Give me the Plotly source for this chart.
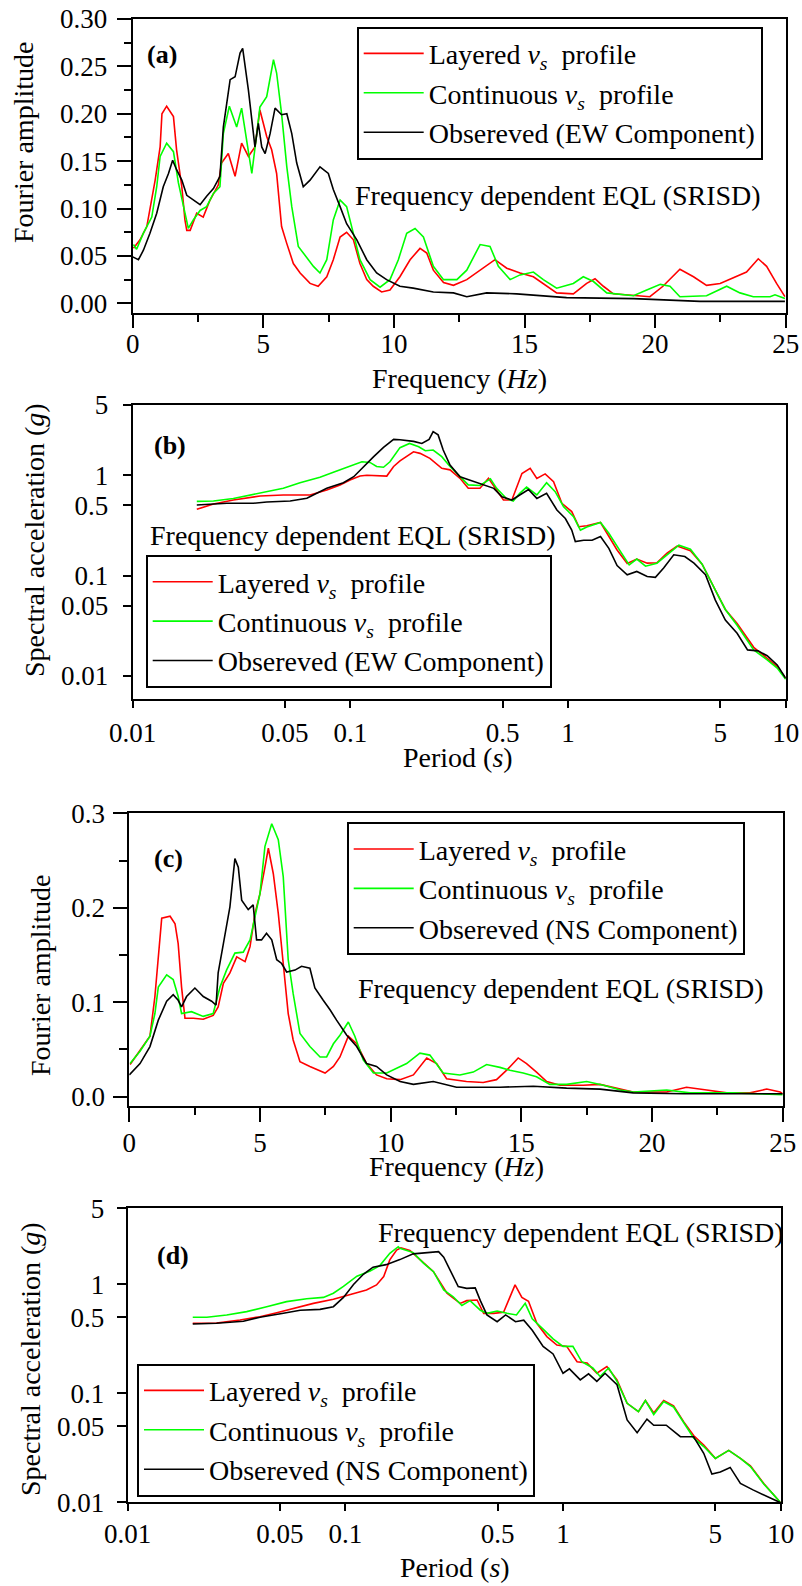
import plotly.graph_objects as go

FONT = "Liberation Serif"

# ---------------- (a) Fourier amplitude, EW component ----------------
a_layered_f = [0.03, 0.28, 0.54, 0.86, 1.05, 1.12, 1.30, 1.56, 1.68, 1.88, 2.0, 2.07, 2.2, 2.45, 2.7, 2.96,
               3.28, 3.4, 3.66, 3.92, 4.17, 4.43, 4.68, 4.87, 5.13, 5.32, 5.51, 5.7, 5.9, 6.15, 6.41, 6.79,
               7.1, 7.43, 7.68, 7.94, 8.19, 8.45, 8.7, 8.96, 9.21, 9.53, 9.85, 10.23, 10.62, 11.0, 11.26,
               11.51, 11.9, 12.28, 12.79, 13.3, 13.87, 14.32, 14.83, 15.34, 15.72, 16.23, 16.87, 17.38,
               17.7, 18.02, 18.4, 19.17, 19.8, 20.3, 20.95, 21.47, 21.97, 22.49, 22.99, 23.5, 23.95,
               24.27, 24.65, 24.97]
a_layered_amp = [0.058, 0.067, 0.081, 0.13, 0.165, 0.20, 0.208, 0.197, 0.162, 0.123, 0.088, 0.077, 0.077,
                 0.095, 0.091, 0.109, 0.125, 0.148, 0.158, 0.134, 0.169, 0.155, 0.165, 0.204, 0.176, 0.162,
                 0.137, 0.081, 0.063, 0.042, 0.032, 0.021, 0.018, 0.028, 0.046, 0.070, 0.075, 0.067, 0.042,
                 0.025, 0.018, 0.012, 0.014, 0.028, 0.046, 0.058, 0.053, 0.035, 0.022, 0.019, 0.025, 0.035,
                 0.046, 0.037, 0.032, 0.028, 0.021, 0.011, 0.010, 0.021, 0.026, 0.018, 0.010, 0.008, 0.007,
                 0.018, 0.036, 0.028, 0.019, 0.021, 0.027, 0.033, 0.047, 0.039, 0.021, 0.007]

a_contin_f = [0.03, 0.15, 0.41, 0.73, 0.92, 1.05, 1.30, 1.56, 1.75, 1.94, 2.13, 2.32, 2.58, 2.83, 3.09, 3.34,
              3.47, 3.70, 3.98, 4.17, 4.36, 4.56, 4.75, 4.87, 5.13, 5.39, 5.51, 5.70, 5.90, 6.09, 6.34,
              6.66, 6.92, 7.17, 7.43, 7.68, 7.94, 8.19, 8.45, 8.70, 9.09, 9.47, 9.85, 10.17, 10.49, 10.81,
              11.13, 11.51, 11.90, 12.41, 12.79, 13.30, 13.68, 14.00, 14.45, 14.83, 15.34, 15.72, 16.23,
              16.87, 17.25, 17.64, 18.15, 19.17, 19.68, 20.20, 20.57, 20.95, 21.97, 22.74, 23.25, 23.76,
              24.40, 24.59, 24.97]
a_contin_amp = [0.062, 0.057, 0.074, 0.091, 0.123, 0.155, 0.169, 0.160, 0.127, 0.102, 0.079, 0.088, 0.098,
                0.102, 0.116, 0.123, 0.179, 0.208, 0.186, 0.206, 0.172, 0.137, 0.179, 0.207, 0.218, 0.257,
                0.243, 0.200, 0.144, 0.102, 0.060, 0.049, 0.039, 0.032, 0.046, 0.088, 0.109, 0.102, 0.074,
                0.046, 0.025, 0.017, 0.025, 0.046, 0.074, 0.079, 0.070, 0.039, 0.025, 0.025, 0.035, 0.062,
                0.060, 0.039, 0.025, 0.030, 0.033, 0.025, 0.016, 0.021, 0.028, 0.023, 0.011, 0.008, 0.014,
                0.020, 0.018, 0.007, 0.008, 0.018, 0.011, 0.007, 0.007, 0.009, 0.005]

a_obs_f = [0.0, 0.22, 0.41, 0.66, 0.92, 1.17, 1.37, 1.53, 1.68, 1.88, 2.07, 2.32, 2.58, 2.83, 3.09, 3.34,
           3.47, 3.73, 3.92, 4.11, 4.21, 4.43, 4.62, 4.68, 4.81, 4.94, 5.07, 5.26, 5.45, 5.70, 5.90, 6.09,
           6.28, 6.53, 6.79, 7.17, 7.49, 7.68, 7.94, 8.19, 8.58, 8.96, 9.34, 9.72, 10.23, 10.74, 11.51,
           12.28, 12.79, 13.55, 14.70, 16.61, 19.17, 21.72, 24.97]
a_obs_amp = [0.049, 0.046, 0.056, 0.074, 0.095, 0.123, 0.137, 0.151, 0.141, 0.130, 0.114, 0.109, 0.104,
             0.113, 0.121, 0.134, 0.186, 0.236, 0.239, 0.264, 0.269, 0.225, 0.179, 0.165, 0.190, 0.165,
             0.158, 0.179, 0.206, 0.199, 0.200, 0.179, 0.148, 0.123, 0.130, 0.144, 0.137, 0.120, 0.102,
             0.084, 0.067, 0.046, 0.032, 0.025, 0.018, 0.016, 0.012, 0.011, 0.007, 0.011, 0.010, 0.006,
             0.005, 0.002, 0.002]

# ---------------- (b) Response spectra, EW component ----------------
b_layered_t = [0.0197, 0.0235, 0.029, 0.0385, 0.0492, 0.0653, 0.0779, 0.0897, 0.0996, 0.1107, 0.119, 0.137,
               0.147, 0.158, 0.169, 0.195, 0.209, 0.232, 0.263, 0.287, 0.319, 0.348, 0.394, 0.431, 0.462,
               0.505, 0.552, 0.614, 0.670, 0.719, 0.785, 0.858, 0.937, 1.04, 1.12, 1.22, 1.41, 1.51, 1.68,
               1.87, 2.07, 2.31, 2.56, 2.85, 3.17, 3.65, 4.13, 4.75, 5.28, 5.98, 7.13, 8.22, 9.14, 10.0]
b_layered_sa = [0.457, 0.516, 0.566, 0.621, 0.635, 0.635, 0.712, 0.798, 0.895, 0.98, 1.0, 0.985, 0.98, 1.22,
                1.39, 1.71, 1.65, 1.47, 1.17, 1.13, 0.93, 0.74, 0.74, 0.93, 0.74, 0.566, 0.566, 1.04, 1.17,
                0.93, 1.03, 0.86, 0.525, 0.434, 0.307, 0.314, 0.338, 0.264, 0.18, 0.132, 0.146, 0.133, 0.134,
                0.167, 0.197, 0.177, 0.13, 0.0718, 0.046, 0.0334, 0.0193, 0.015, 0.0124, 0.0095]

b_contin_t = [0.0197, 0.0235, 0.029, 0.0385, 0.0492, 0.0587, 0.0725, 0.0866, 0.0996, 0.113, 0.123, 0.132,
              0.142, 0.152, 0.169, 0.187, 0.206, 0.221, 0.240, 0.263, 0.287, 0.319, 0.348, 0.394, 0.44, 0.47,
              0.52, 0.56, 0.60, 0.645, 0.719, 0.797, 0.873, 0.954, 1.06, 1.14, 1.22, 1.41, 1.54, 1.74, 1.91,
              2.07, 2.27, 2.56, 2.85, 3.23, 3.65, 4.13, 4.75, 5.28, 5.98, 7.13, 8.22, 9.14, 10.0]
b_contin_sa = [0.549, 0.553, 0.587, 0.659, 0.74, 0.842, 0.953, 1.10, 1.23, 1.36, 1.34, 1.22, 1.20, 1.36, 1.88,
               2.07, 1.92, 1.75, 1.78, 1.53, 1.22, 0.966, 0.80, 0.79, 0.92, 0.74, 0.587, 0.553, 0.659, 0.76,
               0.635, 0.842, 0.686, 0.486, 0.386, 0.284, 0.305, 0.338, 0.264, 0.174, 0.128, 0.146, 0.124,
               0.133, 0.161, 0.201, 0.183, 0.13, 0.0718, 0.046, 0.032, 0.0182, 0.0145, 0.012, 0.0093]

b_obs_t = [0.0197, 0.0271, 0.0358, 0.0413, 0.0529, 0.0631, 0.0779, 0.0929, 0.1036, 0.115, 0.128, 0.142,
           0.158, 0.169, 0.195, 0.213, 0.23, 0.24, 0.253, 0.267, 0.287, 0.319, 0.355, 0.41, 0.456, 0.497,
           0.552, 0.60, 0.658, 0.719, 0.797, 0.889, 0.972, 1.04, 1.08, 1.18, 1.29, 1.41, 1.54, 1.68, 1.87,
           2.07, 2.31, 2.52, 2.75, 3.06, 3.44, 3.79, 4.28, 4.75, 5.28, 5.98, 6.68, 7.46, 8.22, 9.14, 10.0]
b_obs_sa = [0.505, 0.525, 0.525, 0.54, 0.553, 0.59, 0.74, 0.842, 0.966, 1.22, 1.53, 1.89, 2.27, 2.25, 2.17,
            2.07, 2.27, 2.72, 2.52, 1.78, 1.26, 0.966, 0.895, 0.80, 0.74, 0.61, 0.566, 0.635, 0.72, 0.587,
            0.659, 0.45, 0.37, 0.284, 0.218, 0.225, 0.225, 0.245, 0.187, 0.126, 0.102, 0.11, 0.098, 0.096,
            0.119, 0.161, 0.155, 0.133, 0.102, 0.057, 0.036, 0.0266, 0.0182, 0.0178, 0.0159, 0.0129, 0.0095]

# ---------------- (c) Fourier amplitude, NS component ----------------
c_layered_f = [0.03, 0.41, 0.79, 0.98, 1.17, 1.24, 1.56, 1.75, 1.87, 2.0, 2.13, 2.45, 2.83, 3.21, 3.4, 3.6,
               3.85, 4.11, 4.43, 4.62, 4.81, 5.0, 5.19, 5.32, 5.51, 5.70, 5.89, 6.08, 6.27, 6.53, 6.91, 7.49,
               7.81, 8.06, 8.38, 8.7, 9.08, 9.46, 9.85, 10.36, 10.87, 11.38, 11.76, 12.14, 12.9, 13.54, 14.05,
               14.44, 14.88, 15.2, 15.58, 15.97, 16.48, 17.37, 18.01, 18.65, 19.28, 20.56, 21.32, 22.09,
               22.86, 23.75, 24.39, 24.9, 25.0]
c_layered_amp = [0.034, 0.049, 0.064, 0.106, 0.166, 0.189, 0.191, 0.183, 0.162, 0.116, 0.083, 0.083, 0.082,
                 0.086, 0.095, 0.12, 0.131, 0.148, 0.143, 0.159, 0.194, 0.215, 0.243, 0.263, 0.236, 0.194,
                 0.141, 0.088, 0.06, 0.037, 0.032, 0.025, 0.032, 0.042, 0.064, 0.056, 0.035, 0.023, 0.019,
                 0.018, 0.023, 0.041, 0.035, 0.019, 0.016, 0.015, 0.018, 0.028, 0.041, 0.035, 0.026, 0.016,
                 0.012, 0.012, 0.013, 0.009, 0.005, 0.005, 0.010, 0.007, 0.004, 0.004, 0.008, 0.005, 0.003]

c_contin_f = [0.03, 0.41, 0.79, 0.98, 1.11, 1.43, 1.68, 1.87, 2.0, 2.38, 2.83, 3.21, 3.47, 3.72, 4.04, 4.36,
              4.62, 4.81, 5.0, 5.19, 5.38, 5.45, 5.70, 5.89, 6.08, 6.27, 6.53, 6.91, 7.3, 7.55, 7.81, 8.06,
              8.38, 8.63, 8.95, 9.34, 9.85, 10.36, 10.61, 11.12, 11.5, 12.01, 12.65, 13.16, 13.67, 14.18,
              14.56, 15.07, 15.58, 16.09, 16.73, 17.5, 18.14, 18.78, 19.28, 20.56, 21.45, 23.11, 25.0]
c_contin_amp = [0.035, 0.048, 0.064, 0.088, 0.116, 0.129, 0.124, 0.106, 0.088, 0.090, 0.085, 0.088, 0.116,
                0.134, 0.152, 0.153, 0.166, 0.191, 0.215, 0.265, 0.284, 0.289, 0.272, 0.233, 0.145, 0.109,
                0.067, 0.053, 0.042, 0.042, 0.056, 0.065, 0.079, 0.064, 0.039, 0.025, 0.025, 0.032, 0.035,
                0.046, 0.044, 0.025, 0.023, 0.026, 0.034, 0.031, 0.028, 0.025, 0.021, 0.013, 0.013, 0.016,
                0.012, 0.007, 0.005, 0.007, 0.004, 0.004, 0.002]

c_obs_f = [0.0, 0.41, 0.79, 1.11, 1.43, 1.68, 1.87, 2.0, 2.19, 2.51, 2.83, 3.15, 3.32, 3.4, 3.6, 3.85, 4.04,
           4.17, 4.3, 4.55, 4.74, 4.87, 5.06, 5.25, 5.45, 5.64, 5.83, 6.02, 6.34, 6.59, 6.91, 7.1, 7.42, 7.68,
           7.93, 8.32, 8.7, 9.08, 9.46, 9.85, 10.36, 10.87, 11.63, 12.52, 14.18, 15.46, 16.73, 18.01, 19.28,
           21.2, 25.0]
c_obs_amp = [0.023, 0.035, 0.053, 0.081, 0.101, 0.108, 0.102, 0.095, 0.106, 0.115, 0.106, 0.101, 0.097,
             0.131, 0.162, 0.201, 0.252, 0.243, 0.208, 0.198, 0.203, 0.166, 0.166, 0.173, 0.166, 0.145, 0.141,
             0.132, 0.134, 0.138, 0.136, 0.115, 0.102, 0.092, 0.081, 0.065, 0.053, 0.035, 0.032, 0.023, 0.016,
             0.013, 0.016, 0.010, 0.010, 0.011, 0.009, 0.008, 0.004, 0.003, 0.003]

# ---------------- (d) Response spectra, NS component ----------------
d_layered_t = [0.0199, 0.0256, 0.0328, 0.0405, 0.0484, 0.0577, 0.0713, 0.0881, 0.105, 0.125, 0.139, 0.150,
               0.160, 0.172, 0.180, 0.198, 0.221, 0.254, 0.293, 0.337, 0.361, 0.403, 0.432, 0.48, 0.533, 0.561,
               0.602, 0.647, 0.694, 0.758, 0.843, 0.937, 1.04, 1.16, 1.29, 1.43, 1.59, 1.77, 1.97, 2.22, 2.39,
               2.61, 2.9, 3.22, 3.58, 3.98, 4.43, 5.01, 5.77, 6.53, 7.26, 8.36, 9.29, 10.0]
d_layered_sa = [0.44, 0.442, 0.472, 0.506, 0.55, 0.60, 0.67, 0.73, 0.80, 0.89, 0.99, 1.18, 1.68, 2.07, 2.17,
                2.05, 1.68, 1.31, 0.83, 0.67, 0.71, 0.72, 0.543, 0.543, 0.556, 0.71, 0.99, 0.76, 0.70, 0.44,
                0.332, 0.278, 0.27, 0.195, 0.19, 0.153, 0.176, 0.133, 0.081, 0.068, 0.086, 0.066, 0.086, 0.077,
                0.055, 0.041, 0.0336, 0.0253, 0.030, 0.0253, 0.0216, 0.0149, 0.0117, 0.0099]

d_contin_t = [0.0199, 0.0231, 0.0285, 0.0352, 0.0435, 0.0537, 0.0664, 0.0793, 0.0881, 0.098, 0.113, 0.130,
              0.144, 0.160, 0.175, 0.178, 0.205, 0.229, 0.254, 0.283, 0.313, 0.343, 0.374, 0.417, 0.447, 0.498,
              0.553, 0.611, 0.67, 0.722, 0.81, 0.90, 1.0, 1.11, 1.22, 1.37, 1.48, 1.62, 1.77, 1.97, 2.22, 2.39,
              2.61, 2.9, 3.22, 3.58, 3.98, 4.43, 5.01, 5.77, 6.53, 7.26, 8.36, 9.29, 10.0]
d_contin_sa = [0.50, 0.50, 0.525, 0.563, 0.625, 0.695, 0.74, 0.76, 0.83, 0.96, 1.19, 1.33, 1.49, 1.93, 2.22,
               2.15, 1.96, 1.56, 1.31, 0.89, 0.77, 0.64, 0.71, 0.58, 0.543, 0.57, 0.543, 0.525, 0.67, 0.484,
               0.389, 0.316, 0.27, 0.27, 0.195, 0.171, 0.143, 0.171, 0.129, 0.081, 0.068, 0.086, 0.064, 0.084,
               0.075, 0.054, 0.039, 0.0325, 0.0253, 0.030, 0.0253, 0.0213, 0.0147, 0.0117, 0.0099]

d_obs_t = [0.0199, 0.0256, 0.034, 0.0405, 0.0519, 0.062, 0.0765, 0.0881, 0.098, 0.109, 0.121, 0.134, 0.154,
           0.178, 0.205, 0.237, 0.268, 0.283, 0.303, 0.330, 0.361, 0.395, 0.417, 0.447, 0.498, 0.545, 0.605,
           0.66, 0.722, 0.81, 0.90, 1.0, 1.07, 1.20, 1.31, 1.43, 1.56, 1.77, 1.97, 2.19, 2.43, 2.61, 2.98,
           3.46, 3.98, 4.43, 4.83, 5.28, 5.86, 6.53, 7.46, 8.36, 10.0]
d_obs_sa = [0.434, 0.44, 0.46, 0.50, 0.543, 0.58, 0.59, 0.625, 0.76, 1.0, 1.24, 1.44, 1.52, 1.69, 1.91, 1.96,
            2.0, 1.78, 1.35, 0.955, 0.92, 0.93, 0.71, 0.525, 0.455, 0.525, 0.455, 0.47, 0.38, 0.27, 0.23, 0.153,
            0.168, 0.133, 0.151, 0.129, 0.153, 0.12, 0.057, 0.0436, 0.058, 0.051, 0.051, 0.040, 0.040, 0.0282,
            0.0182, 0.019, 0.0209, 0.0149, 0.013, 0.0117, 0.0099]

# ---------------- labels ----------------
series_colors = ["#ff0000", "#00ff00", "#000000"]
name_layered = "Layered <i>v</i><sub><i>s</i></sub>&nbsp;&nbsp;profile"
name_contin = "Continuous <i>v</i><sub><i>s</i></sub>&nbsp;&nbsp;profile"
name_obs_ew = "Obsereved (EW Component)"
name_obs_ns = "Obsereved (NS Component)"
method_note = "Frequency dependent EQL (SRISD)"

lin_ticks = [0, 5, 10, 15, 20, 25]
amp_ticks_ab = [0.0, 0.05, 0.10, 0.15, 0.20, 0.25, 0.30]
amp_text_ab = ["0.00", "0.05", "0.10", "0.15", "0.20", "0.25", "0.30"]
amp_ticks_c = [0.0, 0.1, 0.2, 0.3]
amp_text_c = ["0.0", "0.1", "0.2", "0.3"]
period_ticks = [0.01, 0.05, 0.1, 0.5, 1, 5, 10]
period_text = ["0.01", "0.05", "0.1", "0.5", "1", "5", "10"]
sa_ticks = [0.01, 0.05, 0.1, 0.5, 1, 5]
sa_text = ["0.01", "0.05", "0.1", "0.5", "1", "5"]
decade_ticks = [0.01, 0.1, 1, 10]

panels = [
    ("x", "y", "legend", [(a_layered_f, a_layered_amp, name_layered),
                          (a_contin_f, a_contin_amp, name_contin),
                          (a_obs_f, a_obs_amp, name_obs_ew)]),
    ("x2", "y2", "legend2", [(b_layered_t, b_layered_sa, name_layered),
                             (b_contin_t, b_contin_sa, name_contin),
                             (b_obs_t, b_obs_sa, name_obs_ew)]),
    ("x3", "y3", "legend3", [(c_layered_f, c_layered_amp, name_layered),
                             (c_contin_f, c_contin_amp, name_contin),
                             (c_obs_f, c_obs_amp, name_obs_ns)]),
    ("x4", "y4", "legend4", [(d_layered_t, d_layered_sa, name_layered),
                             (d_contin_t, d_contin_sa, name_contin),
                             (d_obs_t, d_obs_sa, name_obs_ns)]),
]

fig = go.Figure()
for xa, ya, lg, series in panels:
    for (xs, ys, nm), col in zip(series, series_colors):
        fig.add_trace(go.Scatter(x=xs, y=ys, name=nm, mode="lines", xaxis=xa, yaxis=ya, legend=lg,
                                 line=dict(color=col, width=1.6), hoverinfo="skip"))

W, H = 802, 1586


def px_x(p):
    return p / W


def px_y(p):
    return 1 - p / H


tick_font = dict(family=FONT, size=27, color="black")
frame = dict(showline=True, linecolor="black", linewidth=2, mirror=True, showgrid=False, zeroline=False,
             ticks="outside", tickcolor="black", tickwidth=2, tickfont=tick_font, automargin=False)
bare = dict(ticks="outside", tickwidth=2, tickcolor="black", showticklabels=False, showgrid=False,
            zeroline=False, showline=False, automargin=False)

# plot rectangles in pixels: left, right, top, bottom
boxes = {
    "a": (132.7, 785.7, 19.0, 312.7),
    "b": (132.7, 785.7, 405.0, 699.3),
    "c": (129.3, 782.7, 813.3, 1106.0),
    "d": (127.7, 780.7, 1208.3, 1502.3),
}


def xdom(k):
    l, r, t, b = boxes[k]
    return [px_x(l), px_x(r)]


def ydom(k):
    l, r, t, b = boxes[k]
    return [px_y(b), px_y(t)]


lin_x = dict(frame, type="linear", range=[0, 25], tickvals=lin_ticks,
             minor=dict(tickvals=[2.5, 7.5, 12.5, 17.5, 22.5], ticklen=7, tickwidth=2, tickcolor="black",
                        ticks="outside"))
log_x = dict(frame, type="log", range=[-2, 1], tickvals=period_ticks, ticktext=period_text, ticklen=7)

fig.update_layout(
    width=W, height=H, margin=dict(l=0, r=0, t=0, b=0, autoexpand=False),
    paper_bgcolor="white", plot_bgcolor="white",
    font=dict(family=FONT, size=28, color="black"),
    xaxis=dict(lin_x, domain=xdom("a"), anchor="y", ticklen=13, ticklabelstandoff=-7),
    yaxis=dict(frame, domain=ydom("a"), anchor="x", range=[-0.0099, 0.30], tickvals=amp_ticks_ab,
               ticktext=amp_text_ab, ticklen=14,
               minor=dict(tickvals=[0.025, 0.075, 0.125, 0.175, 0.225, 0.275], ticklen=7, tickwidth=2,
                          tickcolor="black", ticks="outside"), ticklabelstandoff=4),
    xaxis2=dict(log_x, domain=xdom("b"), anchor="y2", ticklabelstandoff=1),
    yaxis2=dict(frame, type="log", domain=ydom("b"), anchor="x2", range=[-2.232, 0.699], tickvals=sa_ticks,
                ticktext=sa_text, ticklen=8, ticklabelstandoff=9),
    xaxis3=dict(lin_x, domain=xdom("c"), anchor="y3", ticklen=14, ticklabelstandoff=-2),
    yaxis3=dict(frame, domain=ydom("c"), anchor="x3", range=[-0.0099, 0.30], tickvals=amp_ticks_c,
                ticktext=amp_text_c, ticklen=14,
                minor=dict(tickvals=[0.05, 0.15, 0.25], ticklen=8, tickwidth=2, tickcolor="black",
                           ticks="outside"), ticklabelstandoff=3),
    xaxis4=dict(log_x, domain=xdom("d"), anchor="y4", ticklabelstandoff=-1),
    yaxis4=dict(frame, type="log", domain=ydom("d"), anchor="x4", range=[-2.0, 0.699], tickvals=sa_ticks,
                ticktext=sa_text, ticklen=9, ticklabelstandoff=7),
    # longer ticks at every decade of the log axes
    xaxis5=dict(bare, type="log", overlaying="x2", anchor="y2", range=[-2, 1], tickvals=decade_ticks,
                ticklen=13),
    yaxis5=dict(bare, type="log", overlaying="y2", anchor="x2", range=[-2.232, 0.699],
                tickvals=decade_ticks[:3], ticklen=14),
    xaxis6=dict(bare, type="log", overlaying="x4", anchor="y4", range=[-2, 1], tickvals=decade_ticks,
                ticklen=13),
    yaxis6=dict(bare, type="log", overlaying="y4", anchor="x4", range=[-2.0, 0.699],
                tickvals=decade_ticks[:3], ticklen=14),
)

legend_style = dict(xanchor="left", yanchor="top", bgcolor="white", bordercolor="black", borderwidth=2,
                    font=dict(family=FONT, size=28, color="black"), itemwidth=60, tracegroupgap=0,
                    itemclick=False, itemdoubleclick=False)
legend_pos = {"legend": (356.7, 26.7), "legend2": (145.7, 555.0), "legend3": (346.7, 822.3),
              "legend4": (137.0, 1363.7)}
fig.update_layout({lg: dict(legend_style, x=px_x(lx), y=px_y(ly)) for lg, (lx, ly) in legend_pos.items()})

annotations = []
# panel tags
for tag, (lx, cy) in {"(a)": (145, 55), "(b)": (152, 445), "(c)": (152, 858), "(d)": (155, 1255)}.items():
    annotations.append(dict(text=f"<b>{tag}</b>", x=px_x(lx), y=px_y(cy), xanchor="left", yanchor="middle",
                            font=dict(family=FONT, size=26, color="black")))
# method note
for lx, cy in [(353, 195), (148, 535), (356, 988), (376, 1232)]:
    annotations.append(dict(text=method_note, x=px_x(lx), y=px_y(cy), xanchor="left", yanchor="middle",
                            font=dict(family=FONT, size=28, color="black")))
# axis titles
for txt, cx, cy in [("Frequency (<i>Hz</i>)", 459, 378), ("Period (<i>s</i>)", 458, 758),
                    ("Frequency (<i>Hz</i>)", 456, 1166), ("Period (<i>s</i>)", 455, 1567)]:
    annotations.append(dict(text=txt, x=px_x(cx), y=px_y(cy), xanchor="center", yanchor="middle",
                            font=dict(family=FONT, size=28, color="black")))
for txt, cx, cy in [("Fourier amplitude", 24, 143), ("Spectral acceleration (<i>g</i>)", 34, 540),
                    ("Fourier amplitude", 40, 976), ("Spectral acceleration (<i>g</i>)", 30, 1359)]:
    annotations.append(dict(text=txt, x=px_x(cx), y=px_y(cy), xanchor="center", yanchor="middle",
                            textangle=-90, font=dict(family=FONT, size=28, color="black")))
for ann in annotations:
    ann.update(xref="paper", yref="paper", showarrow=False)
fig.update_layout(annotations=annotations)

fig.write_html("out.html")
